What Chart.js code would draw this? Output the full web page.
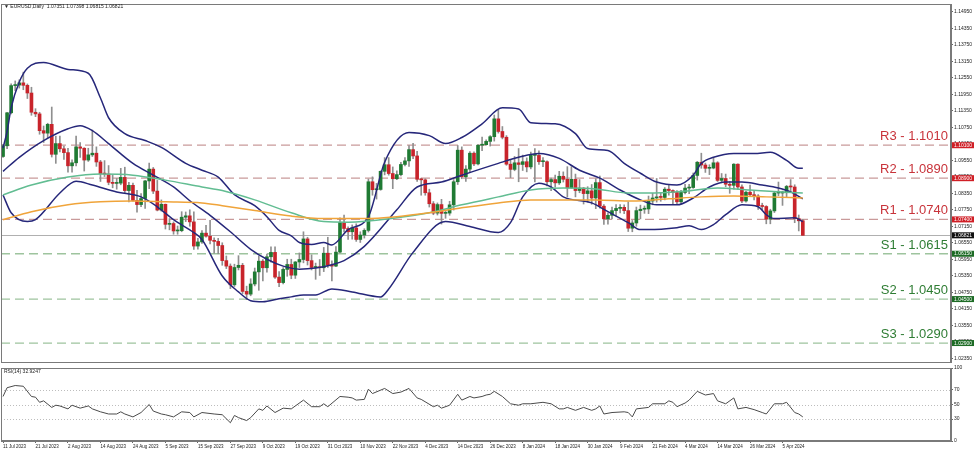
<!DOCTYPE html>
<meta charset="utf-8">
<title>EURUSD Daily</title>
<script src="https://cdn.jsdelivr.net/npm/chart.js@4.4.1/dist/chart.umd.min.js"></script>
<style>
body {
	margin: 0;
	background: #fff;
	font-family: 'Liberation Sans', Arial, sans-serif;
}
.wrap {
	position: relative;
	width: 975px;
	height: 452px;
	overflow: hidden;
}
#main, #rsi {
	position: absolute;
	left: 0;
}
#main { top: 0; }
#rsi { top: 364px; }
.tag {
	position: absolute;
	font-size: 5px;
	color: #222;
	white-space: nowrap;
}
</style>

<div class="wrap">
	<canvas id="main" width="975" height="366"></canvas>
	<canvas id="rsi" width="975" height="88"></canvas>
	<div class="tag" style="left:4px; top:3px;">▼ EURUSD,Daily&nbsp; 1.07351 1.07398 1.06815 1.06821</div>
	<div class="tag" style="left:4px; top:368px;">RSI(14) 32.9247</div>
</div>

<script>
// bar index of each date label (one label every 8 bars)
const dateIdx = [0, 8, 16, 24, 32, 40, 48, 56, 64, 72, 80, 88, 96, 104, 112, 120, 128, 136, 144, 152, 160, 168, 176, 184, 192];
const dateLabels = ['11 Jul 2023', '21 Jul 2023', '2 Aug 2023', '14 Aug 2023', '24 Aug 2023', '5 Sep 2023', '15 Sep 2023',
	'27 Sep 2023', '9 Oct 2023', '19 Oct 2023', '31 Oct 2023', '10 Nov 2023', '22 Nov 2023', '4 Dec 2023', '14 Dec 2023',
	'26 Dec 2023', '8 Jan 2024', '18 Jan 2024', '30 Jan 2024', '9 Feb 2024', '21 Feb 2024', '4 Mar 2024', '14 Mar 2024',
	'26 Mar 2024', '5 Apr 2024'];

const priceTicks = [1.14950, 1.14350, 1.13750, 1.13150, 1.12550, 1.11950, 1.11350, 1.10750, 1.10150, 1.09550,
	1.08950, 1.08350, 1.07750, 1.07150, 1.06550, 1.05950, 1.05350, 1.04750, 1.04150, 1.03550, 1.02950, 1.02350];

const opens = [
	1.0969,1.1008,1.1128,1.1227,1.1229,1.1237,1.1228,1.1200,1.1130,1.1124,
	1.1063,1.1054,1.1086,1.0977,1.1016,1.0997,1.0983,1.0935,1.0946,1.1004,
	1.0999,1.0956,1.0975,1.0981,1.0949,1.0906,1.0905,1.0875,1.0871,1.0872,
	1.0893,1.0845,1.0864,1.0809,1.0794,1.0816,1.0880,1.0923,1.0843,1.0774,
	1.0795,1.0722,1.0725,1.0698,1.0699,1.0748,1.0753,1.0731,1.0643,1.0658,
	1.0690,1.0679,1.0664,1.0660,1.0645,1.0590,1.0570,1.0502,1.0565,1.0573,
	1.0478,1.0468,1.0505,1.0549,1.0588,1.0564,1.0604,1.0620,1.0530,1.0510,
	1.0558,1.0576,1.0537,1.0585,1.0594,1.0669,1.0590,1.0565,1.0565,1.0564,
	1.0617,1.0573,1.0570,1.0621,1.0729,1.0707,1.0695,1.0709,1.0667,1.0683,
	1.0700,1.0877,1.0848,1.0849,1.0915,1.0939,1.0907,1.0888,1.0903,1.0940,
	1.0953,1.0994,1.0971,1.0886,1.0884,1.0837,1.0797,1.0763,1.0794,1.0762,
	1.0763,1.0793,1.0877,1.0992,1.0895,1.0923,1.0981,1.0942,1.1010,1.1012,
	1.1024,1.1041,1.1106,1.1060,1.1039,1.0941,1.0922,1.0946,1.0940,1.0950,
	1.0931,1.0973,1.0973,1.0950,1.0950,1.0877,1.0885,1.0873,1.0897,1.0886,
	1.0855,1.0886,1.0845,1.0854,1.0834,1.0844,1.0818,1.0874,1.0788,1.0742,
	1.0755,1.0772,1.0780,1.0784,1.0772,1.0708,1.0727,1.0772,1.0777,1.0778,
	1.0807,1.0818,1.0822,1.0820,1.0850,1.0845,1.0838,1.0804,1.0838,1.0854,
	1.0856,1.0900,1.0948,1.0938,1.0926,1.0927,1.0946,1.0882,1.0889,1.0868,
	1.0864,1.0941,1.0858,1.0807,1.0839,1.0830,1.0825,1.0790,1.0787,1.0741,
	1.0771,1.0836,1.0836,1.0837,1.0860,1.0858,1.0743,1.07351];

const highs = [
	1.1013,1.1130,1.1233,1.1244,1.1248,1.1276,1.1233,1.1221,1.1143,1.1130,
	1.1080,1.1090,1.1149,1.1043,1.1043,1.1007,1.0999,1.0957,1.1043,1.1020,
	1.1001,1.0999,1.1065,1.1004,1.0955,1.0954,1.0936,1.0902,1.0889,1.0926,
	1.0930,1.0875,1.0872,1.0846,1.0834,1.0882,1.0945,1.0929,1.0882,1.0811,
	1.0796,1.0743,1.0731,1.0716,1.0768,1.0767,1.0775,1.0768,1.0671,1.0699,
	1.0718,1.0737,1.0673,1.0671,1.0655,1.0607,1.0578,1.0577,1.0608,1.0580,
	1.0497,1.0524,1.0563,1.0607,1.0594,1.0614,1.0640,1.0640,1.0550,1.0565,
	1.0595,1.0595,1.0587,1.0618,1.0695,1.0675,1.0611,1.0581,1.0594,1.0638,
	1.0675,1.0589,1.0641,1.0746,1.0756,1.0713,1.0720,1.0724,1.0695,1.0706,
	1.0887,1.0895,1.0871,1.0917,1.0965,1.0965,1.0931,1.0917,1.0948,1.0965,
	1.1009,1.1017,1.0988,1.0890,1.0888,1.0850,1.0805,1.0800,1.0813,1.0774,
	1.0806,1.0885,1.1009,1.1004,1.0936,1.0987,1.0986,1.1012,1.1040,1.1030,
	1.1045,1.1120,1.1139,1.1078,1.1045,1.0957,1.0969,1.0998,1.0974,1.0964,
	1.0985,1.0998,1.0990,1.0965,1.0953,1.0890,1.0901,1.0915,1.0913,1.0932,
	1.0932,1.0905,1.0885,1.0856,1.0859,1.0867,1.0888,1.0898,1.0794,1.0764,
	1.0785,1.0794,1.0794,1.0793,1.0804,1.0736,1.0785,1.0792,1.0789,1.0825,
	1.0835,1.0889,1.0835,1.0856,1.0866,1.0848,1.0845,1.0846,1.0868,1.0868,
	1.0909,1.0951,1.0981,1.0945,1.0939,1.0964,1.0950,1.0907,1.0905,1.0878,
	1.0943,1.0942,1.0866,1.0843,1.0865,1.0843,1.0830,1.0799,1.0790,1.0777,
	1.0840,1.0876,1.0843,1.0864,1.0885,1.0866,1.0756,1.07398];

const lows = [
	1.0966,1.0997,1.1124,1.1208,1.1218,1.1212,1.1180,1.1119,1.1114,1.1050,
	1.1020,1.1037,1.0967,1.0944,1.0986,1.0958,1.0912,1.0912,1.0935,1.0966,
	1.0916,1.0951,1.0969,1.0933,1.0878,1.0896,1.0866,1.0855,1.0850,1.0866,
	1.0836,1.0804,1.0806,1.0766,1.0786,1.0780,1.0852,1.0834,1.0771,1.0770,
	1.0705,1.0702,1.0686,1.0686,1.0695,1.0732,1.0715,1.0631,1.0632,1.0653,
	1.0675,1.0651,1.0617,1.0615,1.0573,1.0561,1.0488,1.0496,1.0556,1.0470,
	1.0448,1.0462,1.0498,1.0482,1.0516,1.0548,1.0584,1.0525,1.0495,1.0505,
	1.0533,1.0524,1.0525,1.0565,1.0582,1.0574,1.0556,1.0522,1.0536,1.0550,
	1.0565,1.0516,1.0568,1.0618,1.0694,1.0667,1.0668,1.0660,1.0656,1.0672,
	1.0694,1.0828,1.0814,1.0846,1.0902,1.0901,1.0852,1.0885,1.0898,1.0935,
	1.0933,1.0961,1.0878,1.0828,1.0828,1.0785,1.0757,1.0756,1.0723,1.0744,
	1.0755,1.0774,1.0867,1.0888,1.0878,1.0911,1.0936,1.0938,1.0990,1.1010,
	1.1007,1.1025,1.1054,1.1033,1.0937,1.0892,1.0917,1.0877,1.0918,1.0913,
	1.0924,1.0876,1.0940,1.0932,1.0862,1.0845,1.0857,1.0867,1.0876,1.0822,
	1.0853,1.0822,1.0837,1.0796,1.0803,1.0795,1.0779,1.0781,1.0722,1.0723,
	1.0742,1.0752,1.0764,1.0761,1.0696,1.0695,1.0715,1.0742,1.0762,1.0761,
	1.0793,1.0803,1.0806,1.0811,1.0828,1.0797,1.0796,1.0796,1.0833,1.0834,
	1.0853,1.0883,1.0926,1.0911,1.0903,1.0924,1.0878,1.0873,1.0859,1.0835,
	1.0850,1.0850,1.0801,1.0803,1.0826,1.0811,1.0776,1.0775,1.0724,1.0724,
	1.0765,1.0826,1.0791,1.0821,1.0840,1.0728,1.0698,1.06815];

const closes = [
	1.1008,1.1128,1.1227,1.1229,1.1237,1.1228,1.1200,1.1130,1.1124,1.1063,
	1.1054,1.1086,1.0977,1.1016,1.0997,1.0983,1.0935,1.0946,1.1004,1.0999,
	1.0956,1.0975,1.0981,1.0949,1.0906,1.0905,1.0875,1.0871,1.0872,1.0893,
	1.0845,1.0864,1.0809,1.0794,1.0816,1.0880,1.0923,1.0843,1.0774,1.0795,
	1.0722,1.0725,1.0698,1.0699,1.0748,1.0753,1.0731,1.0643,1.0658,1.0690,
	1.0679,1.0664,1.0660,1.0645,1.0590,1.0570,1.0502,1.0565,1.0573,1.0478,
	1.0468,1.0505,1.0549,1.0588,1.0564,1.0604,1.0620,1.0530,1.0510,1.0558,
	1.0576,1.0537,1.0585,1.0594,1.0669,1.0590,1.0565,1.0565,1.0564,1.0617,
	1.0573,1.0570,1.0621,1.0729,1.0707,1.0695,1.0709,1.0667,1.0683,1.0700,
	1.0877,1.0848,1.0849,1.0915,1.0939,1.0907,1.0888,1.0903,1.0940,1.0953,
	1.0994,1.0971,1.0886,1.0884,1.0837,1.0797,1.0763,1.0794,1.0762,1.0763,
	1.0793,1.0877,1.0992,1.0895,1.0923,1.0981,1.0942,1.1010,1.1012,1.1024,
	1.1041,1.1106,1.1060,1.1039,1.0941,1.0922,1.0946,1.0940,1.0950,1.0931,
	1.0973,1.0973,1.0950,1.0950,1.0877,1.0885,1.0873,1.0897,1.0886,1.0855,
	1.0886,1.0845,1.0854,1.0834,1.0844,1.0818,1.0874,1.0788,1.0742,1.0755,
	1.0772,1.0780,1.0784,1.0772,1.0708,1.0727,1.0772,1.0777,1.0778,1.0807,
	1.0818,1.0822,1.0820,1.0850,1.0845,1.0838,1.0804,1.0838,1.0854,1.0856,
	1.0900,1.0948,1.0938,1.0926,1.0927,1.0946,1.0882,1.0889,1.0868,1.0864,
	1.0941,1.0858,1.0807,1.0839,1.0830,1.0825,1.0790,1.0787,1.0741,1.0771,
	1.0836,1.0836,1.0837,1.0860,1.0858,1.0743,1.0735,1.06821];

// indicator lines: [bar index, value]
const bbUpper = [[0,1.1000],[1,1.1060],[2,1.1146],[4,1.1240],[6,1.1290],[10,1.1311],[16,1.1286],[21,1.1272],[24,1.1182],
	[26,1.1110],[30,1.1052],[35,1.1027],[39,1.1002],[45,1.0944],[49,1.0919],[53,1.0894],[57,1.0830],[62,1.0790],[65,1.0750],
	[68,1.0700],[71,1.0680],[73,1.0656],[76,1.0649],[79,1.0656],[81,1.0647],[85,1.0703],[90,1.0750],[94,1.0948],[100,1.1056],
	[105,1.1045],[109,1.1016],[113,1.1038],[118,1.1088],[123,1.1146],[127,1.1142],[130,1.1092],[136,1.1088],[141,1.1052],
	[144,1.0998],[149,1.0991],[153,1.0944],[157,1.0908],[161,1.0876],[166,1.0865],[170,1.0901],[172,1.0944],[175,1.0966],
	[180,1.0980],[185,1.0980],[189,1.0984],[193,1.0955],[196,1.0926],[197,1.0926]];
const bbMiddle = [[0,1.0915],[4,1.0966],[10,1.1027],[16,1.1070],[19,1.1081],[22,1.1063],[26,1.1016],[32,1.0944],[37,1.0901],
	[42,1.0858],[46,1.0808],[51,1.0755],[56,1.0695],[61,1.0631],[65,1.0595],[69,1.0570],[73,1.0559],[77,1.0563],[81,1.0575],
	[84,1.0590],[89,1.0642],[97,1.0775],[102,1.0858],[108,1.0876],[113,1.0901],[122,1.0944],[127,1.0966],[132,1.0980],
	[137,1.0962],[142,1.0919],[147,1.0890],[152,1.0847],[157,1.0811],[161,1.0793],[166,1.0793],[170,1.0818],[174,1.0858],
	[178,1.0876],[182,1.0876],[187,1.0865],[191,1.0854],[194,1.0840],[197,1.0815]];
const bbLower = [[0,1.0829],[2,1.0764],[6,1.0732],[8,1.0739],[14,1.0836],[18,1.0879],[22,1.0865],[28,1.0840],[34,1.0822],
	[38,1.0786],[42,1.0739],[47,1.0692],[49,1.0667],[54,1.0534],[58,1.0476],[61,1.0444],[64,1.0440],[68,1.0451],[71,1.0458],
	[74,1.0465],[77,1.0465],[81,1.0487],[86,1.0476],[93,1.0458],[95,1.0487],[101,1.0620],[109,1.0732],[115,1.0714],
	[122,1.0692],[125,1.0728],[128,1.0822],[132,1.0872],[135,1.0858],[138,1.0822],[145,1.0800],[149,1.0768],[154,1.0728],
	[157,1.0703],[159,1.0703],[166,1.0710],[169,1.0717],[172,1.0703],[175,1.0721],[178,1.0757],[182,1.0793],[186,1.0786],
	[188,1.0757],[190,1.0743],[195,1.0746],[197,1.0732]];
const maGreen = [[0,1.0829],[7,1.0865],[16,1.0894],[24,1.0905],[32,1.0901],[40,1.0883],[49,1.0858],[54,1.0845],[62,1.0811],
	[71,1.0764],[79,1.0732],[85,1.0730],[97,1.0746],[105,1.0764],[113,1.0793],[122,1.0822],[130,1.0847],[138,1.0854],
	[146,1.0851],[154,1.0836],[159,1.0836],[168,1.0843],[176,1.0854],[184,1.0847],[192,1.0840],[197,1.0836]];
const maOrange = [[0,1.0739],[7,1.0768],[16,1.0793],[24,1.0804],[32,1.0807],[40,1.0804],[49,1.0800],[54,1.0790],[62,1.0772],
	[71,1.0752],[79,1.0743],[89,1.0743],[97,1.0750],[105,1.0764],[113,1.0782],[122,1.0800],[130,1.0811],[138,1.0811],
	[146,1.0811],[155,1.0807],[164,1.0815],[172,1.0822],[180,1.0825],[188,1.0822],[197,1.0818]];

const rsiPts = [[0,61],[1,73],[3,76],[5,75],[7,61],[8,60],[9,53],[10,55],[12,46],[13,49],[14,48],[16,44],[17,49],[19,45],
	[21,48],[22,44],[24,40],[26,37],[28,37],[29,40],[30,37],[32,33],[34,39],[36,50],[37,41],[39,37],[40,36],[42,33],[44,40],
	[46,39],[47,33],[49,39],[52,37],[54,36],[56,25],[57,35],[58,32],[60,28],[61,32],[63,44],[64,42],[65,48],[67,39],[69,45],
	[71,44],[72,48],[74,56],[76,47],[78,47],[79,51],[80,47],[83,61],[85,60],[86,59],[87,56],[89,57],[90,71],[91,65],[94,72],
	[96,65],[98,67],[100,72],[102,59],[103,57],[106,47],[107,49],[108,45],[110,49],[112,64],[113,56],[115,61],[116,59],
	[118,61],[119,63],[120,64],[121,68],[123,61],[125,51],[127,49],[128,51],[130,51],[133,53],[135,51],[137,44],[138,44],
	[139,46],[141,42],[143,46],[145,42],[146,44],[147,48],[148,37],[150,39],[153,40],[154,39],[155,33],[156,44],[159,46],
	[160,51],[163,51],[164,55],[165,53],[166,47],[168,52],[169,56],[171,68],[173,63],[175,65],[176,55],[178,51],[180,59],
	[181,44],[183,46],[185,43],[187,39],[188,37],[190,51],[192,51],[193,53],[195,39],[196,37],[197,33]];

const resLevels = [1.1010, 1.0890, 1.0740];
const resNames = ['R3', 'R2', 'R1'];
const supLevels = [1.0615, 1.0450, 1.0290];
const supNames = ['S1', 'S2', 'S3'];
const lastPrice = 1.06821;

const X_MIN = -0.5, X_MAX = 233.5;
const FONT = "'Liberation Sans', Arial, sans-serif";

const bullCol = '#1f7a33';
const bearCol = '#c8242b';

const pts = arr => arr.map(([x, y]) => ({x, y}));

const lineSet = (arr, color, width) => ({
	type: 'line',
	data: pts(arr),
	borderColor: color,
	borderWidth: width,
	pointRadius: 0,
	cubicInterpolationMode: 'monotone',
	order: 1,
});

const levelsPlugin = {
	id: 'levels',
	beforeDatasetsDraw(chart) {
		const {ctx, chartArea: a, scales: {y}} = chart;
		ctx.save();
		ctx.beginPath();
		ctx.rect(a.left, a.top, a.right - a.left, a.bottom - a.top);
		ctx.clip();

		// last price
		let py = Math.round(y.getPixelForValue(lastPrice)) + 0.5;
		ctx.strokeStyle = '#b0b0b0';
		ctx.lineWidth = 1;
		ctx.beginPath();
		ctx.moveTo(a.left, py);
		ctx.lineTo(a.right, py);
		ctx.stroke();

		const draw = (vals, names, lineCol, textCol) => {
			vals.forEach((v, i) => {
				const ly = y.getPixelForValue(v);
				ctx.strokeStyle = lineCol;
				ctx.lineWidth = 1.3;
				ctx.setLineDash([9, 5]);
				ctx.beginPath();
				ctx.moveTo(a.left, ly);
				ctx.lineTo(a.right, ly);
				ctx.stroke();
				ctx.setLineDash([]);
				ctx.fillStyle = textCol;
				ctx.font = '13px ' + FONT;
				ctx.textAlign = 'right';
				ctx.textBaseline = 'alphabetic';
				ctx.fillText(`${names[i]} - ${v.toFixed(4)}`, a.right - 3, ly - 5);
			});
		};
		draw(resLevels, resNames, '#c99a9a', '#c8333a');
		draw(supLevels, supNames, '#9ec49e', '#2f7d34');
		ctx.restore();
	},
	afterDraw(chart) {
		const {ctx, chartArea: a, scales: {y}} = chart;
		ctx.save();
		ctx.strokeStyle = '#7a7a7a';
		ctx.lineWidth = 1;
		ctx.strokeRect(a.left + 0.5, a.top + 0.5, a.right - a.left - 1, a.bottom - a.top);

		const box = (v, col) => {
			const by = y.getPixelForValue(v);
			ctx.fillStyle = col;
			ctx.fillRect(a.right + 1, by - 3, 22, 6);
			ctx.fillStyle = '#fff';
			ctx.font = '5px ' + FONT;
			ctx.textAlign = 'left';
			ctx.textBaseline = 'middle';
			ctx.fillText(v.toFixed(5), a.right + 3, by + 0.3);
		};
		resLevels.forEach(v => box(v, '#d01f26'));
		supLevels.forEach(v => box(v, '#1d6b25'));
		box(lastPrice, '#111');
		ctx.restore();
	}
};

new Chart(document.getElementById('main'), {
	type: 'bar',
	data: {
		datasets: [
			{
				label: 'wick',
				data: lows.map((l, i) => ({x: i, y: [l, highs[i]]})),
				backgroundColor: '#8f8f8f',
				barThickness: 1,
				grouped: false,
				order: 5,
			},
			{
				label: 'body',
				data: opens.map((o, i) => ({x: i, y: [Math.min(o, closes[i]), Math.max(o, closes[i])]})),
				backgroundColor: opens.map((o, i) => closes[i] >= o ? bullCol : bearCol),
				barThickness: 3,
				minBarLength: 1,
				grouped: false,
				order: 4,
			},
			lineSet(maOrange, '#f0a43a', 1.5),
			lineSet(maGreen, '#62bd92', 1.5),
			lineSet(bbUpper, '#26277a', 1.5),
			lineSet(bbMiddle, '#26277a', 1.5),
			lineSet(bbLower, '#26277a', 1.5),
		]
	},
	options: {
		responsive: false,
		animation: false,
		layout: {padding: {left: 1, top: 2, bottom: 2, right: 0}},
		plugins: {legend: {display: false}, tooltip: {enabled: false}},
		scales: {
			x: {type: 'linear', min: X_MIN, max: X_MAX, offset: false, display: false},
			y: {
				position: 'right',
				min: 1.0221,
				max: 1.1524,
				afterBuildTicks: s => { s.ticks = priceTicks.map(v => ({value: v})); },
				afterFit: s => { s.width = 24; },
				ticks: {
					autoSkip: false,
					padding: 1,
					color: '#222',
					font: {size: 5, family: FONT},
					callback: v => v.toFixed(5),
				},
				grid: {drawOnChartArea: false, tickLength: 2, color: '#666'},
				border: {color: '#7a7a7a'},
			}
		}
	},
	plugins: [levelsPlugin]
});

const rsiPlugin = {
	id: 'rsiGuides',
	beforeDatasetsDraw(chart) {
		const {ctx, chartArea: a, scales: {y}} = chart;
		ctx.save();
		ctx.strokeStyle = '#bdbdbd';
		ctx.lineWidth = 1;
		ctx.setLineDash([1, 2]);
		[70, 50, 30].forEach(v => {
			const ly = Math.round(y.getPixelForValue(v)) + 0.5;
			ctx.beginPath();
			ctx.moveTo(a.left, ly);
			ctx.lineTo(a.right, ly);
			ctx.stroke();
		});
		ctx.restore();
	},
	afterDraw(chart) {
		const {ctx, chartArea: a} = chart;
		ctx.save();
		ctx.strokeStyle = '#7a7a7a';
		ctx.lineWidth = 1;
		ctx.strokeRect(a.left + 0.5, a.top + 0.5, a.right - a.left - 1, a.bottom - a.top - 1);
		ctx.restore();
	}
};

new Chart(document.getElementById('rsi'), {
	type: 'line',
	data: {
		datasets: [{
			data: pts(rsiPts),
			borderColor: '#4a4a4a',
			borderWidth: 1,
			pointRadius: 0,
			tension: 0,
		}]
	},
	options: {
		responsive: false,
		animation: false,
		layout: {padding: {left: 1, top: 2, right: 0, bottom: 0}},
		plugins: {legend: {display: false}, tooltip: {enabled: false}},
		scales: {
			x: {
				type: 'linear',
				min: X_MIN,
				max: X_MAX,
				offset: false,
				afterBuildTicks: s => { s.ticks = dateIdx.map(v => ({value: v})); },
				afterFit: s => { s.height = 11; },
				ticks: {
					autoSkip: false,
					maxRotation: 0,
					align: 'start',
					padding: 1,
					color: '#222',
					font: {size: 4.5, family: FONT},
					callback: (v, i) => dateLabels[i],
				},
				grid: {drawOnChartArea: false, tickLength: 2, color: '#666'},
				border: {color: '#7a7a7a'},
			},
			y: {
				position: 'right',
				min: 0,
				max: 100,
				afterBuildTicks: s => { s.ticks = [0, 30, 50, 70, 100].map(v => ({value: v})); },
				afterFit: s => { s.width = 24; },
				ticks: {
					autoSkip: false,
					padding: 1,
					color: '#222',
					font: {size: 5, family: FONT},
				},
				grid: {drawOnChartArea: false, tickLength: 2, color: '#666'},
				border: {color: '#7a7a7a'},
			}
		}
	},
	plugins: [rsiPlugin]
});
</script>
